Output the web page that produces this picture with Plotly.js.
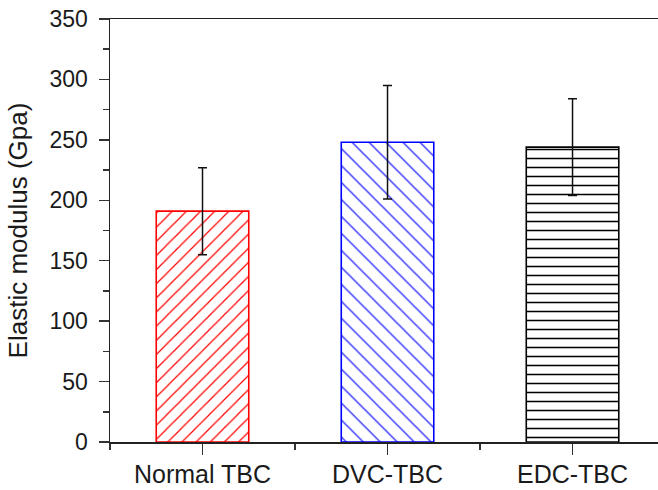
<!DOCTYPE html>
<html>
<head>
<meta charset="utf-8">
<script src="https://cdn.plot.ly/plotly-3.0.1.min.js"></script>
<style>html,body{margin:0;padding:0;background:#fff;}#chart{width:658px;height:490px;}</style>
</head>
<body>
<div id="chart"></div>
<script>
// Data
const categories = ["Normal TBC", "DVC-TBC", "EDC-TBC"];
const modulus = [191, 248, 244];
const modulusErr = [36, 47, 40];
const barColors = ["#ff0000", "#0000ff", "#000000"];
const hatchShapes = ["/", "\\", "-"];
const hatchSizes = [10, 12, 9];
const hatchSolidity = [0.12, 0.1, 0.17];

const positions = categories.map((_, i) => i);

const traces = categories.map((c, i) => ({
  type: "bar",
  x: [positions[i]],
  y: [modulus[i]],
  width: 0.5,
  marker: {
    color: "#ffffff",
    line: { color: barColors[i], width: 1.6 },
    pattern: {
      shape: hatchShapes[i],
      fgcolor: barColors[i],
      bgcolor: "#ffffff",
      size: hatchSizes[i],
      solidity: hatchSolidity[i],
      fillmode: "replace"
    }
  },
  error_y: {
    type: "data",
    array: [modulusErr[i]],
    visible: true,
    color: "#111111",
    thickness: 1.5,
    width: 4.5
  },
  showlegend: false,
  hoverinfo: "skip"
}));

const layout = {
  width: 658,
  height: 490,
  margin: { l: 110, r: 0, t: 19, b: 48 },
  paper_bgcolor: "#ffffff",
  plot_bgcolor: "#ffffff",
  font: { family: "Liberation Sans, Arial, sans-serif", color: "#1a1a1a" },
  bargap: 0,
  xaxis: {
    range: [-0.5, 2.462],
    tickmode: "array",
    tickvals: positions,
    ticktext: categories,
    ticks: "outside",
    ticklen: 11,
    tickwidth: 1.5,
    tickcolor: "#333",
    showline: true,
    linecolor: "#222",
    linewidth: 1.5,
    mirror: true,
    showgrid: false,
    zeroline: false,
    tickfont: { size: 25, color: "#1a1a1a" },
    ticklabelstandoff: -2,
    automargin: false,
    minor: { tickmode: "linear", tick0: -0.5, dtick: 1, ticks: "outside", ticklen: 6, tickwidth: 1.5, tickcolor: "#333", showgrid: false }
  },
  yaxis: {
    range: [0, 350],
    tickmode: "linear",
    tick0: 0,
    dtick: 50,
    ticks: "outside",
    ticklen: 10,
    tickwidth: 1.5,
    tickcolor: "#333",
    showline: true,
    linecolor: "#222",
    linewidth: 1.5,
    mirror: false,
    showgrid: false,
    zeroline: false,
    tickfont: { size: 23, color: "#1a1a1a" },
    ticklabelstandoff: 6,
    automargin: false,
    minor: { tickmode: "linear", tick0: 0, dtick: 25, ticks: "outside", ticklen: 6, tickwidth: 1.5, tickcolor: "#333", showgrid: false },
    title: { text: "Elastic modulus (Gpa)", font: { size: 26, color: "#1a1a1a" }, standoff: 14 }
  }
};

Plotly.newPlot("chart", traces, layout, { displayModeBar: false, staticPlot: true });
</script>
</body>
</html>
